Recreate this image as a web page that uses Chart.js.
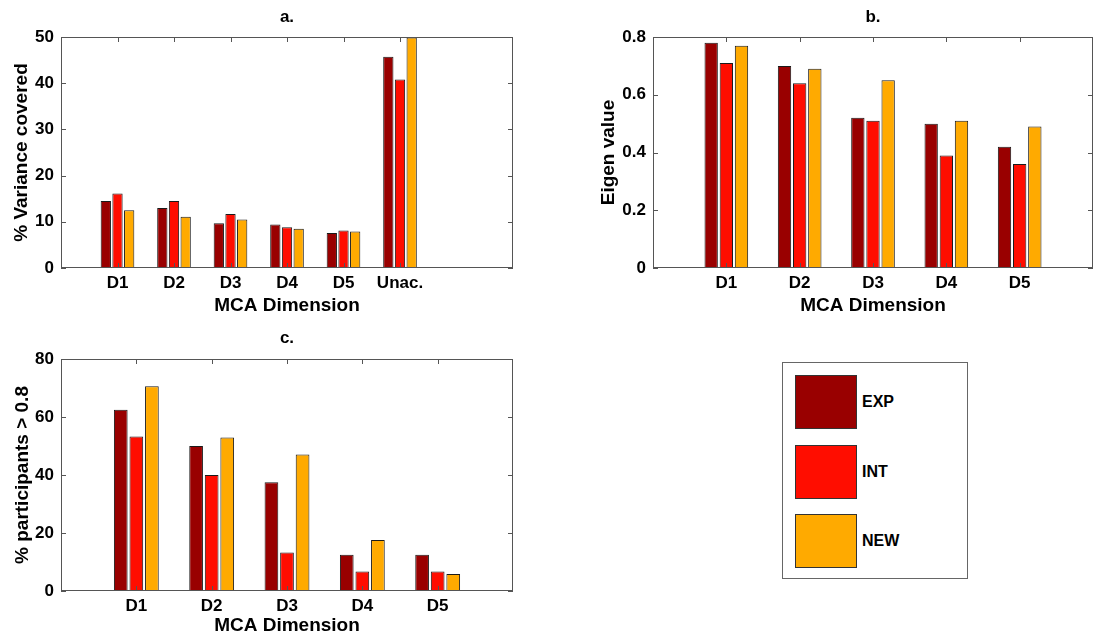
<!DOCTYPE html>
<html>
<head>
<meta charset="utf-8">
<script src="https://cdn.jsdelivr.net/npm/chart.js@4.4.0/dist/chart.umd.min.js"></script>
<style>
  body { margin: 0; background: #fff; width: 1115px; height: 640px; position: relative; overflow: hidden; font-family: 'Liberation Sans', Arial, sans-serif; }
  .panel { position: absolute; }
  #legendBox { position: absolute; left: 782px; top: 362px; width: 186px; height: 217px; border: 1px solid #666; box-sizing: border-box; background: #fff; }
  .lg-swatch { position: absolute; left: 12px; width: 62px; height: 54px; border: 1px solid #333; box-sizing: border-box; }
  .lg-text { position: absolute; left: 79px; font-weight: bold; font-size: 16px; line-height: 54px; color: #000; }
</style>
</head>
<body>
<canvas id="chartA" class="panel" style="left:0;top:0" width="574" height="320"></canvas>
<canvas id="chartB" class="panel" style="left:580px;top:0" width="535" height="320"></canvas>
<canvas id="chartC" class="panel" style="left:0;top:320px" width="574" height="320"></canvas>
<div id="legendBox"></div>

<script>
// --- data ---
const seriesNames = ['EXP', 'INT', 'NEW'];
const seriesColors = ['#990000', '#ff0d00', '#ffaa00'];

const catsA = ['D1', 'D2', 'D3', 'D4', 'D5', 'Unac.'];
const varExp = [14.5, 13.0, 9.7, 9.4, 7.6, 45.7];
const varInt = [16.1, 14.5, 11.7, 8.8, 8.1, 40.8];
const varNew = [12.5, 11.1, 10.5, 8.5, 7.9, 49.9];
const ticksA = [0, 10, 20, 30, 40, 50];

const catsB = ['D1', 'D2', 'D3', 'D4', 'D5'];
const eigExp = [0.78, 0.70, 0.52, 0.50, 0.42];
const eigInt = [0.71, 0.64, 0.51, 0.39, 0.36];
const eigNew = [0.77, 0.69, 0.65, 0.51, 0.49];
const ticksB = [0, 0.2, 0.4, 0.6, 0.8];

const catsC = ['D1', 'D2', 'D3', 'D4', 'D5'];
const pctExp = [62.5, 50.0, 37.5, 12.5, 12.5];
const pctInt = [53.3, 40.0, 13.3, 6.7, 6.7];
const pctNew = [70.6, 52.9, 47.1, 17.6, 5.9];
const ticksC = [0, 20, 40, 60, 80];

Chart.defaults.font.family = "'Liberation Sans', Arial, sans-serif";
Chart.defaults.font.weight = 'bold';
Chart.defaults.color = '#000';

// matlab style box with inward ticks + panel title
const matlabBox = {
    id: 'matlabBox',
    afterDraw(chart, args, opts) {
        const { ctx, chartArea: a, scales } = chart;
        ctx.save();
        ctx.strokeStyle = '#555';
        ctx.lineWidth = 1;
        ctx.strokeRect(a.left + 0.5, a.top + 0.5, a.right - a.left - 1, a.bottom - a.top - 1);
        ctx.beginPath();
        scales.y.ticks.forEach(t => {
            const y = Math.round(scales.y.getPixelForValue(t.value)) + 0.5;
            ctx.moveTo(a.left, y); ctx.lineTo(a.left + 5, y);
            ctx.moveTo(a.right, y); ctx.lineTo(a.right - 5, y);
        });
        scales.x.ticks.forEach(t => {
            const x = Math.round(scales.x.getPixelForValue(t.value)) + 0.5;
            ctx.moveTo(x, a.bottom); ctx.lineTo(x, a.bottom - 5);
            ctx.moveTo(x, a.top); ctx.lineTo(x, a.top + 5);
        });
        ctx.stroke();
        ctx.fillStyle = '#000';
        ctx.font = "bold 17px 'Liberation Sans', Arial, sans-serif";
        ctx.textAlign = 'center';
        ctx.textBaseline = 'alphabetic';
        ctx.fillText(opts.text, (a.left + a.right) / 2, opts.y);
        ctx.restore();
    }
};

function makeChart(id, cats, series, yTicks, yTitle, title, lay) {
    const ctx = document.getElementById(id).getContext('2d');
    return new Chart(ctx, {
        type: 'bar',
        data: {
            datasets: series.map((vals, k) => ({
                label: seriesNames[k],
                data: vals.map((v, i) => ({ x: i + 1, y: v })),
                backgroundColor: seriesColors[k],
                borderColor: '#1a1a1a',
                borderWidth: 1,
                borderSkipped: false,
                categoryPercentage: 0.62,
                barPercentage: 0.88
            }))
        },
        options: {
            responsive: false,
            animation: false,
            layout: { padding: { left: 0, right: lay.right, top: lay.top, bottom: 0 } },
            plugins: {
                legend: { display: false },
                tooltip: { enabled: false },
                matlabBox: { text: title, y: lay.titleY }
            },
            scales: {
                x: {
                    type: 'linear',
                    offset: false,
                    min: 0,
                    max: cats.length + lay.extra,
                    afterBuildTicks: s => { s.ticks = cats.map((c, i) => ({ value: i + 1 })); },
                    afterFit: s => { s.height = lay.xH; },
                    ticks: {
                        callback: v => cats[v - 1] || '',
                        autoSkip: false,
                        maxRotation: 0,
                        padding: 5,
                        font: { size: 17, weight: 'bold' }
                    },
                    grid: { display: false, drawTicks: false },
                    border: { display: false },
                    title: {
                        display: true,
                        text: 'MCA Dimension',
                        font: { size: 19, weight: 'bold' },
                        padding: { top: 0, bottom: 3 }
                    }
                },
                y: {
                    min: yTicks[0],
                    max: yTicks[yTicks.length - 1],
                    afterBuildTicks: s => { s.ticks = yTicks.map(v => ({ value: v })); },
                    afterFit: s => { s.width = lay.yW; },
                    ticks: { padding: 7, font: { size: 17, weight: 'bold' } },
                    grid: { display: false, drawTicks: false },
                    border: { display: false },
                    title: {
                        display: true,
                        text: yTitle,
                        font: { size: 19, weight: 'bold' },
                        padding: { top: lay.yTitlePad, bottom: 0 }
                    }
                }
            }
        },
        plugins: [matlabBox]
    });
}

makeChart('chartA', catsA, [varExp, varInt, varNew], ticksA, '% Variance covered', 'a.',
    { right: 61, top: 37, xH: 52, yW: 61, extra: 2, titleY: 22, yTitlePad: 10 });
makeChart('chartB', catsB, [eigExp, eigInt, eigNew], ticksB, 'Eigen value', 'b.',
    { right: 22, top: 37, xH: 52, yW: 73, extra: 1, titleY: 22, yTitlePad: 17 });
makeChart('chartC', catsC, [pctExp, pctInt, pctNew], ticksC, '% participants > 0.8', 'c.',
    { right: 61, top: 39, xH: 49, yW: 61, extra: 1, titleY: 23, yTitlePad: 11 });

// legend panel
const legendBox = document.getElementById('legendBox');
seriesNames.forEach((name, k) => {
    const top = 12 + k * 69.5;
    const sw = document.createElement('div');
    sw.className = 'lg-swatch';
    sw.style.top = top + 'px';
    sw.style.background = seriesColors[k];
    const tx = document.createElement('div');
    tx.className = 'lg-text';
    tx.style.top = top + 'px';
    tx.textContent = name;
    legendBox.appendChild(sw);
    legendBox.appendChild(tx);
});
</script>
</body>
</html>
